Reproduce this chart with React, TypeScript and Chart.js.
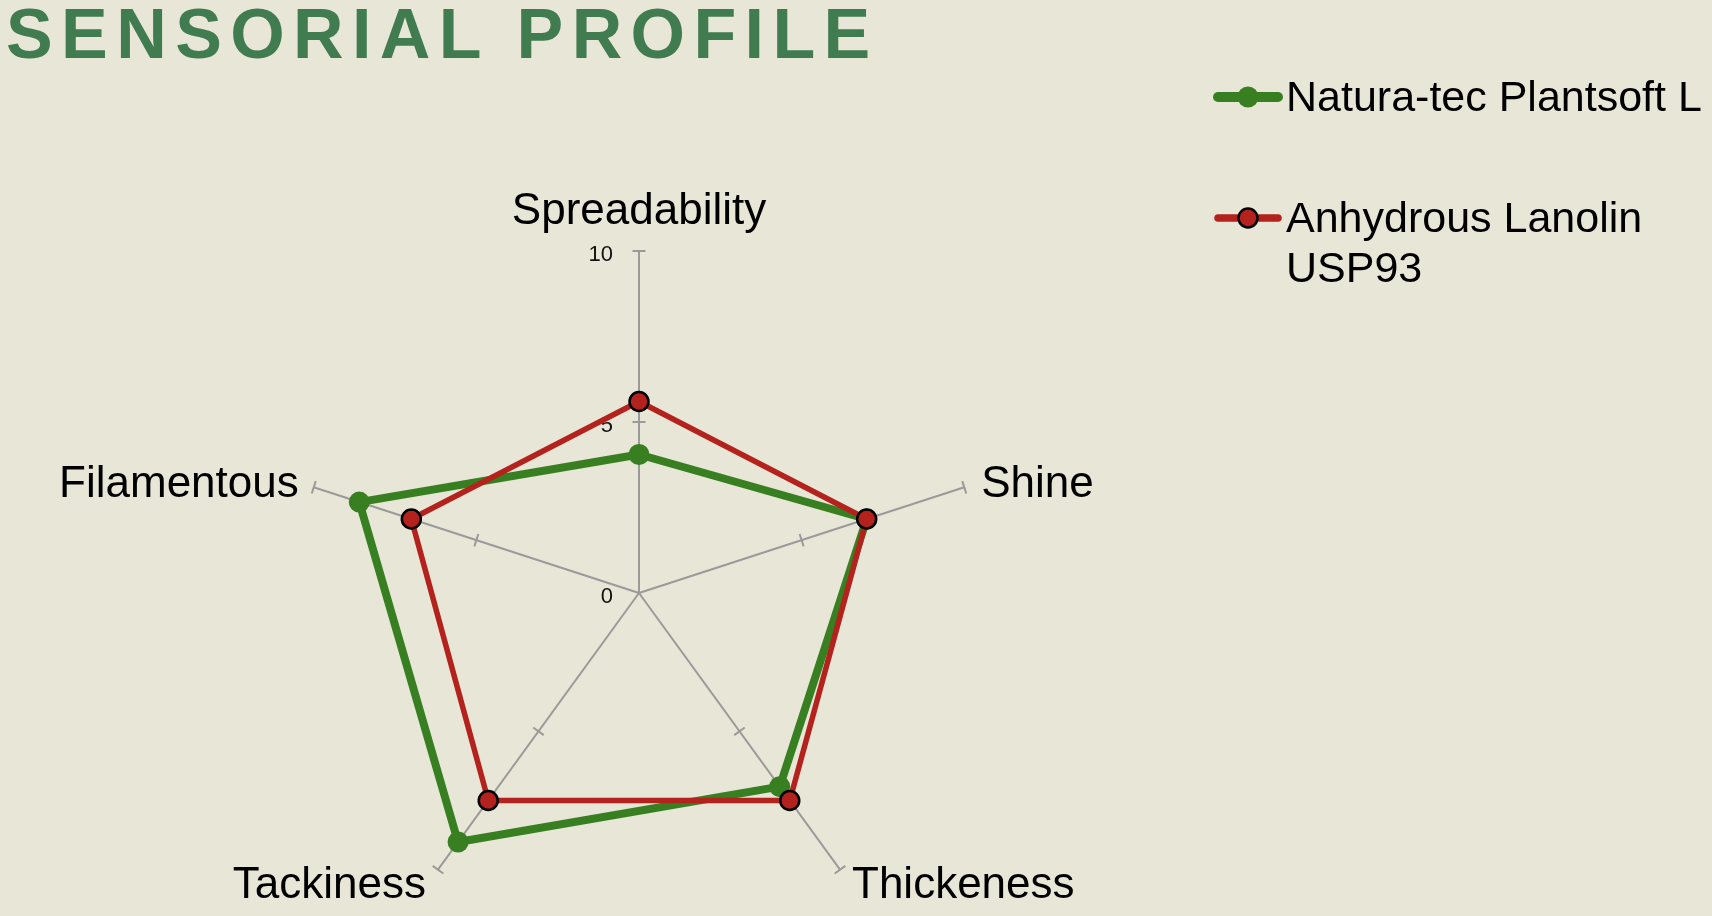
import React, { useEffect, useRef } from 'react';
import { Chart, registerables } from 'chart.js';

Chart.register(...registerables);

// ---- data ----
const categories: string[] = ['Spreadability', 'Shine', 'Thickeness', 'Tackiness', 'Filamentous'];
const plantsoftName: string[] = ['Natura-tec Plantsoft L'];
const lanolinName: string[] = ['Anhydrous Lanolin', 'USP93'];
const plantsoftValues: number[] = [4.05, 7, 7, 9, 8.6];
const lanolinValues: number[] = [5.6, 7, 7.5, 7.5, 7];
const tickValues: number[] = [0, 5, 10];
const axisMin = 0;
const axisMax = 10;
const titleText = 'SENSORIAL PROFILE';

// ---- styles ----
const BG = '#E8E6D6';
const GREEN = '#387F22';
const RED = '#B3221C';
const AXIS = '#9A9A9A';
const FONT = '"Liberation Sans", Arial, Helvetica, sans-serif';

const decorPlugin = {
  id: 'decor',
  beforeDatasetsDraw(chart: any) {
    const s = chart.scales.r;
    const ctx = chart.ctx;
    const n = chart.data.labels.length;
    ctx.save();
    ctx.strokeStyle = AXIS;
    ctx.lineWidth = 2;
    for (let i = 0; i < n; i++) {
      const ang = s.getIndexAngle(i) - Math.PI / 2;
      const px = -Math.sin(ang);
      const py = Math.cos(ang);
      for (const v of tickValues) {
        if (v === axisMin) continue;
        const p = s.getPointPositionForValue(i, v);
        ctx.beginPath();
        ctx.moveTo(p.x + px * 6.5, p.y + py * 6.5);
        ctx.lineTo(p.x - px * 6.5, p.y - py * 6.5);
        ctx.stroke();
      }
    }
    ctx.fillStyle = '#111';
    ctx.font = `22px ${FONT}`;
    ctx.textAlign = 'right';
    ctx.textBaseline = 'alphabetic';
    for (const v of tickValues) {
      const p = s.getPointPositionForValue(0, v);
      ctx.fillText(String(v), p.x - 26, p.y + 10);
    }
    ctx.restore();
  },
  afterDraw(chart: any) {
    const s = chart.scales.r;
    const ctx = chart.ctx;
    const labels: string[] = chart.data.labels;
    ctx.save();
    ctx.fillStyle = '#000';
    ctx.font = `44px ${FONT}`;
    ctx.textBaseline = 'alphabetic';
    labels.forEach((lab, i) => {
      const end = s.getPointPositionForValue(i, axisMax);
      const deg = ((s.getIndexAngle(i) * 180) / Math.PI) % 360;
      let x = end.x;
      let y = end.y;
      if (deg < 1 || deg > 359) {
        ctx.textAlign = 'center';
        y = end.y - 27;
      } else if (deg < 90 || deg > 270) {
        const right = deg < 180;
        ctx.textAlign = right ? 'left' : 'right';
        x = end.x + (right ? 17 : -15);
        y = end.y + 10;
      } else {
        const right = deg < 180;
        ctx.textAlign = right ? 'left' : 'right';
        x = end.x + (right ? 12 : -12);
        y = end.y + 28;
      }
      ctx.fillText(lab, x, y);
    });

    // legend
    const rows = [97, 218];
    const lx0 = 1218;
    const lx1 = 1278;
    const tx = 1286;
    chart.data.datasets.forEach((ds: any, k: number) => {
      const y = rows[k];
      ctx.strokeStyle = ds.borderColor;
      ctx.lineWidth = ds.borderWidth + 2;
      ctx.lineCap = 'round';
      ctx.beginPath();
      ctx.moveTo(lx0, y);
      ctx.lineTo(lx1, y);
      ctx.stroke();
      ctx.beginPath();
      ctx.arc((lx0 + lx1) / 2, y, ds.pointRadius, 0, Math.PI * 2);
      ctx.fillStyle = ds.pointBackgroundColor;
      ctx.fill();
      if (ds.pointBorderWidth) {
        ctx.lineWidth = ds.pointBorderWidth;
        ctx.strokeStyle = ds.pointBorderColor;
        ctx.stroke();
      }
      ctx.fillStyle = '#000';
      ctx.font = `43px ${FONT}`;
      ctx.textAlign = 'left';
      (ds.nameLines as string[]).forEach((line, j) => {
        ctx.fillText(line, tx, y + 14 + j * 50);
      });
    });
    ctx.restore();
  },
};

export default function App() {
  const ref = useRef<HTMLCanvasElement | null>(null);

  useEffect(() => {
    document.body.style.margin = '0';
    document.body.style.background = BG;
    const canvas = ref.current;
    if (!canvas) return;
    const chart = new Chart(canvas, {
      type: 'radar',
      data: {
        labels: categories,
        datasets: [
          {
            label: plantsoftName.join(' '),
            nameLines: plantsoftName,
            data: plantsoftValues,
            borderColor: GREEN,
            backgroundColor: GREEN,
            borderWidth: 8,
            fill: false,
            pointRadius: 10.5,
            pointBackgroundColor: GREEN,
            pointBorderColor: GREEN,
            pointBorderWidth: 0,
            order: 2,
          } as any,
          {
            label: lanolinName.join(' '),
            nameLines: lanolinName,
            data: lanolinValues,
            borderColor: RED,
            backgroundColor: RED,
            borderWidth: 5.5,
            fill: false,
            pointRadius: 9.5,
            pointBackgroundColor: RED,
            pointBorderColor: '#000',
            pointBorderWidth: 2.5,
            order: 1,
          } as any,
        ],
      },
      options: {
        responsive: false,
        animation: false,
        layout: { padding: { left: 297, right: 731, top: 251, bottom: 65 } },
        elements: { line: { tension: 0, borderJoinStyle: 'round' } },
        plugins: {
          legend: { display: false },
          title: { display: false },
          tooltip: { enabled: false },
        },
        scales: {
          r: {
            min: axisMin,
            max: axisMax,
            ticks: { display: false, stepSize: 5 },
            grid: { display: false },
            angleLines: { display: true, color: AXIS, lineWidth: 2 },
            pointLabels: { display: false },
          },
        },
      },
      plugins: [decorPlugin],
    } as any);
    return () => chart.destroy();
  }, []);

  return (
    <div
      style={{
        position: 'fixed',
        left: 0,
        top: 0,
        width: 1712,
        height: 916,
        overflow: 'hidden',
        background: BG,
      }}
    >
      <div
        style={{
          position: 'absolute',
          left: 6,
          top: -1.5,
          fontFamily: FONT,
          fontWeight: 'bold',
          fontSize: 70,
          lineHeight: '70px',
          letterSpacing: 8.4,
          color: '#417C50',
          whiteSpace: 'nowrap',
        }}
      >
        {titleText}
      </div>
      <canvas
        ref={ref}
        width={1712}
        height={1000}
        style={{ position: 'absolute', left: 0, top: 0, width: 1712, height: 1000 }}
      />
    </div>
  );
}
